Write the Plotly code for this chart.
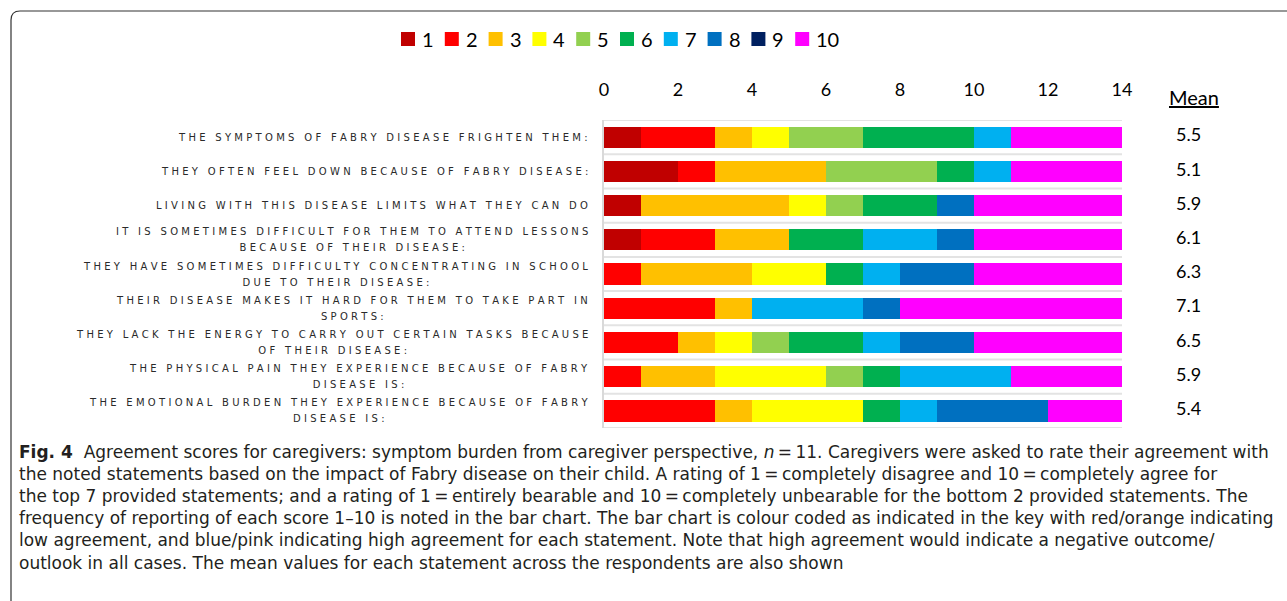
import plotly.graph_objects as go

statements = [
    "THE SYMPTOMS OF FABRY DISEASE FRIGHTEN THEM:",
    "THEY OFTEN FEEL DOWN BECAUSE OF FABRY DISEASE:",
    "LIVING WITH THIS DISEASE LIMITS WHAT THEY CAN DO",
    "IT IS SOMETIMES DIFFICULT FOR THEM TO ATTEND LESSONS<br>BECAUSE OF THEIR DISEASE:",
    "THEY HAVE SOMETIMES DIFFICULTY CONCENTRATING IN SCHOOL<br>DUE TO THEIR DISEASE:",
    "THEIR DISEASE MAKES IT HARD FOR THEM TO TAKE PART IN<br>SPORTS:",
    "THEY LACK THE ENERGY TO CARRY OUT CERTAIN TASKS BECAUSE<br>OF THEIR DISEASE:",
    "THE PHYSICAL PAIN THEY EXPERIENCE BECAUSE OF FABRY<br>DISEASE IS:",
    "THE EMOTIONAL BURDEN THEY EXPERIENCE BECAUSE OF FABRY<br>DISEASE IS:",
]

scores = ["1", "2", "3", "4", "5", "6", "7", "8", "9", "10"]

# frequency of each score per statement (rows follow statements order)
score_1 = [1, 2, 1, 1, 0, 0, 0, 0, 0]
score_2 = [2, 1, 0, 2, 1, 3, 2, 1, 3]
score_3 = [1, 3, 4, 2, 3, 1, 1, 2, 1]
score_4 = [1, 0, 1, 0, 2, 0, 1, 3, 3]
score_5 = [2, 3, 1, 0, 0, 0, 1, 1, 0]
score_6 = [3, 1, 2, 2, 1, 0, 2, 1, 1]
score_7 = [1, 1, 0, 2, 1, 3, 1, 3, 1]
score_8 = [0, 0, 1, 1, 2, 1, 2, 0, 3]
score_9 = [0, 0, 0, 0, 0, 0, 0, 0, 0]
score_10 = [3, 3, 4, 4, 4, 6, 4, 3, 2]

means = ["5.5", "5.1", "5.9", "6.1", "6.3", "7.1", "6.5", "5.9", "5.4"]

x_ticks = [0, 2, 4, 6, 8, 10, 12, 14]

colors = ["#C00000", "#FF0000", "#FFC000", "#FFFF00", "#92D050",
          "#00B050", "#00B0F0", "#0070C0", "#002060", "#FF00FF"]

series = [score_1, score_2, score_3, score_4, score_5,
          score_6, score_7, score_8, score_9, score_10]

caption_lines = [
    "<b>Fig. 4</b>  Agreement scores for caregivers: symptom burden from caregiver perspective, <i>n</i>\u2009=\u200911. "
    "Caregivers were asked to rate their agreement with",
    "the noted statements based on the impact of Fabry disease on their child. A rating of 1\u2009=\u2009completely disagree "
    "and 10\u2009=\u2009completely agree for",
    "the top 7 provided statements; and a rating of 1\u2009=\u2009entirely bearable and 10\u2009=\u2009completely unbearable "
    "for the bottom 2 provided statements. The",
    "frequency of reporting of each score 1\u201310 is noted in the bar chart. The bar chart is colour coded as indicated "
    "in the key with red/orange indicating",
    "low agreement, and blue/pink indicating high agreement for each statement. Note that high agreement would "
    "indicate a negative outcome/",
    "outlook in all cases. The mean values for each statement across the respondents are also shown",
]


def spaced(s):
    out = []
    for p in s.split("<br>"):
        out.append('<span style="font-size:10px">' + "\u2004".join(list(p)) + "</span>")
    return "<br>".join(out)


rows = list(range(len(statements)))

fig = go.Figure()
for name, vals, col in zip(scores, series, colors):
    fig.add_trace(go.Bar(
        y=rows, x=vals, name=name, orientation="h",
        marker=dict(color=col, line=dict(width=0)),
        hoverinfo="x+name", showlegend=False,
    ))

W, H = 1287, 601
ml, mr, mt, mb = 604, 165, 120, 173
PW, PH = W - ml - mr, H - mt - mb


def px(x):
    return (x - ml) / PW


def py(y):
    return (H - mb - y) / PH


fig.update_layout(
    width=W, height=H,
    margin=dict(l=ml, r=mr, t=mt, b=mb, autoexpand=False),
    barmode="stack",
    bargap=0.38,
    plot_bgcolor="white",
    paper_bgcolor="white",
    font=dict(family="Lato, Open Sans, sans-serif", color="#000000"),
    showlegend=False,
    xaxis=dict(
        side="top", range=[0, 14], tickvals=x_ticks, showgrid=False, zeroline=False,
        showline=False, ticks="outside", ticklen=16, tickcolor="rgba(0,0,0,0)",
        tickfont=dict(size=18, family="Lato, Open Sans, sans-serif", color="#000"),
        fixedrange=True,
    ),
    yaxis=dict(
        range=[8.5, -0.5], showticklabels=False, showgrid=False, zeroline=False,
        showline=True, linecolor="#D9D9D9", linewidth=2, ticks="", fixedrange=True,
    ),
)

shapes = []
for i in range(len(statements) + 1):
    shapes.append(dict(type="line", xref="x", yref="y", x0=0, x1=14, y0=i - 0.5, y1=i - 0.5,
                       line=dict(color="#E3E3E3", width=2), layer="below"))
# figure frame with rounded top-left corner
shapes.append(dict(type="path", xref="paper", yref="paper",
                   path="M %f,%f L %f,%f Q %f,%f %f,%f L %f,%f" % (
                       px(11), py(605), px(11), py(20), px(11), py(11),
                       px(20), py(11), px(1295), py(11)),
                   line=dict(color="#333333", width=1.2)))

annotations = []
# key (legend) laid out as in the original figure
for i, (name, col) in enumerate(zip(scores, colors)):
    left = 401 + 43.8 * i
    shapes.append(dict(type="rect", xref="paper", yref="paper",
                       x0=px(left), x1=px(left + 14), y0=py(46), y1=py(32),
                       fillcolor=col, line=dict(width=0)))
    annotations.append(dict(
        xref="paper", yref="paper", x=px(left + 19), y=py(39), xanchor="left", yanchor="middle",
        text=name, showarrow=False,
        font=dict(size=20, family="Lato, Open Sans, sans-serif", color="#000"),
    ))
fig.update_layout(shapes=shapes)

for i, s in enumerate(statements):
    annotations.append(dict(
        xref="paper", yref="y", x=px(590), y=i, xanchor="right", yanchor="middle",
        text=spaced(s), showarrow=False, align="center",
        font=dict(size=12.3, family="DejaVu Sans, sans-serif", color="#2A2A2A"),
    ))
    annotations.append(dict(
        xref="paper", yref="y", x=px(1188), y=i - 0.08, xanchor="center", yanchor="middle",
        text=means[i], showarrow=False,
        font=dict(size=18, family="Lato, Open Sans, sans-serif", color="#000"),
    ))
annotations.append(dict(
    xref="paper", yref="paper", x=px(1194), y=py(97),
    xanchor="center", yanchor="middle", text="<u>Mean</u>", showarrow=False,
    font=dict(size=20, family="Lato, Open Sans, sans-serif", color="#000"),
))
caption = "<br>".join(caption_lines)
annotations.append(dict(
    xref="paper", yref="paper", x=px(17), y=py(440),
    xanchor="left", yanchor="top", text=caption, showarrow=False, align="left",
    font=dict(size=17, family="DejaVu Sans, sans-serif", color="#231F20"),
))
fig.update_layout(annotations=annotations)

fig.write_html("out.html", post_script="document.body.style.margin='0';",
               config={"displayModeBar": False})
